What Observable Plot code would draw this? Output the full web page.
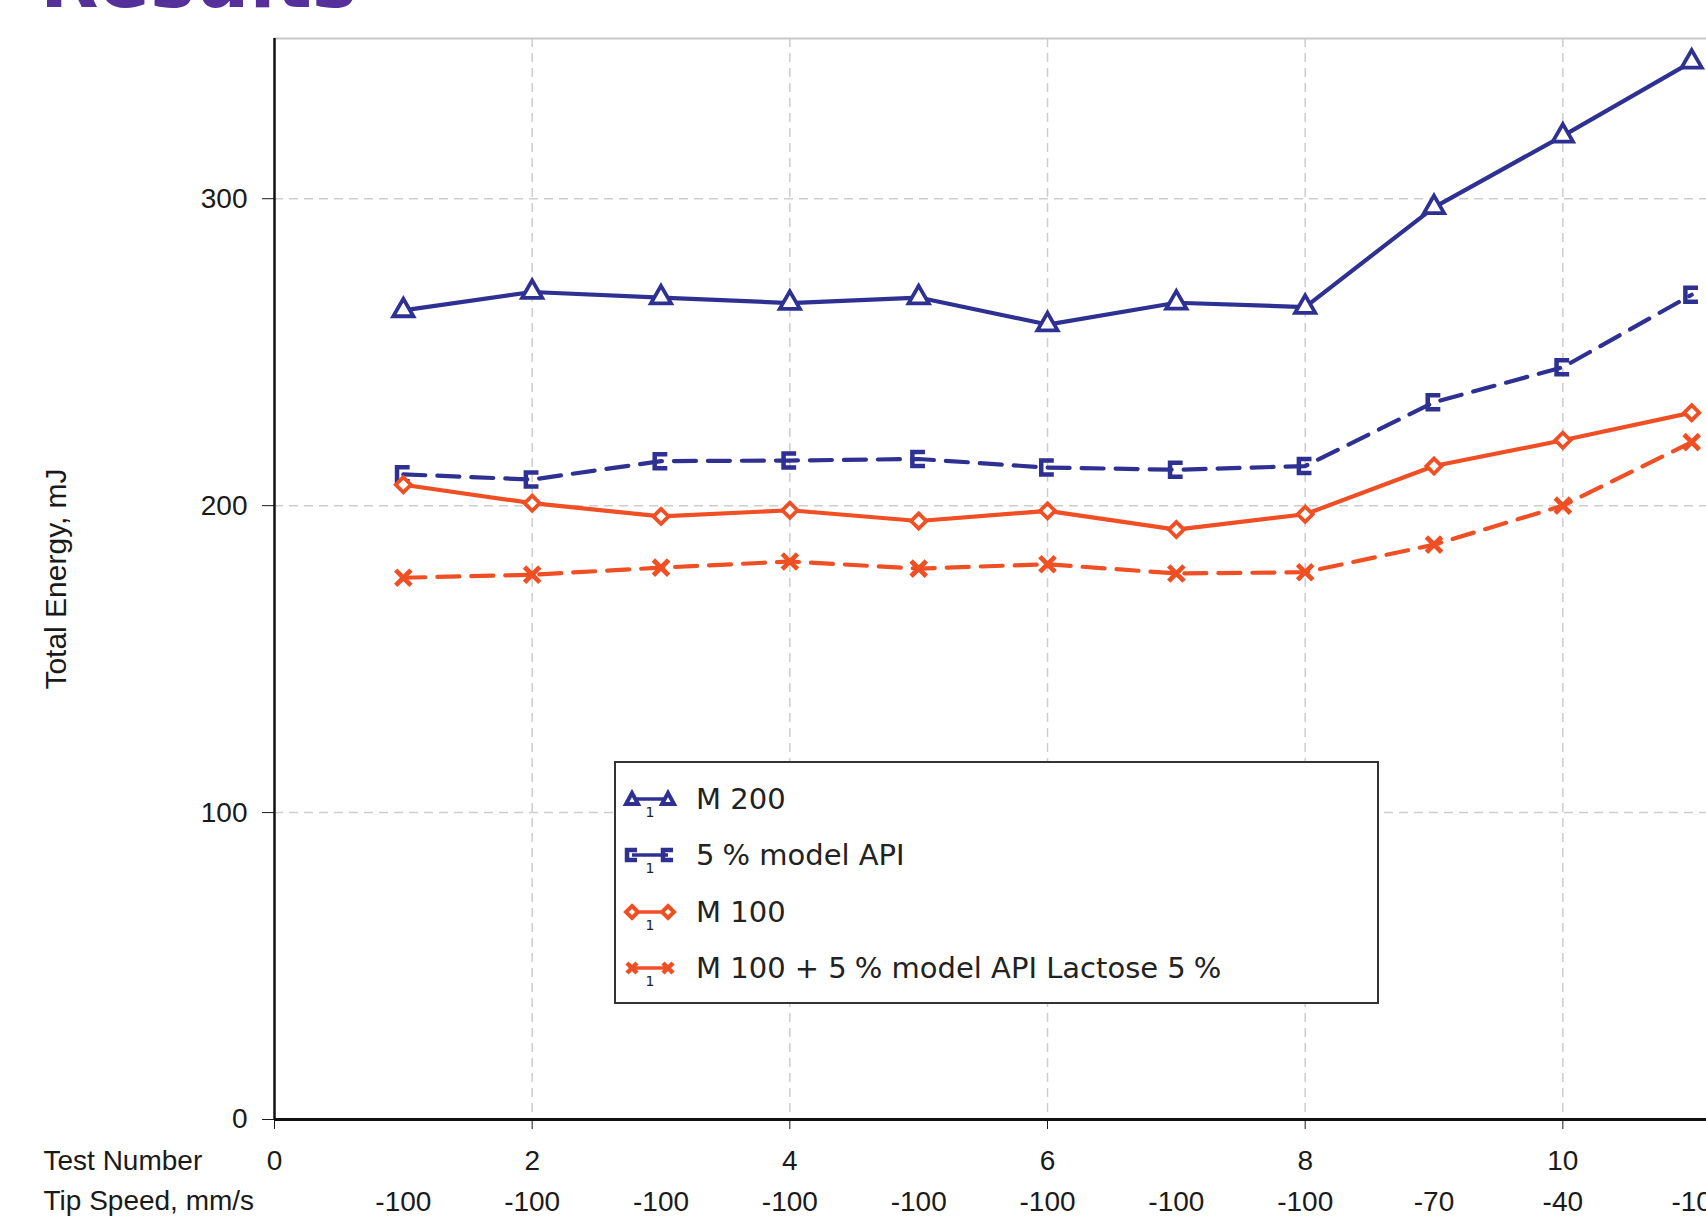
<!DOCTYPE html>
<html>
<head>
<meta charset="utf-8">
<script src="https://cdn.jsdelivr.net/npm/d3@7"></script>
<script src="https://cdn.jsdelivr.net/npm/@observablehq/plot@0.6"></script>
<style>
  html, body { margin: 0; padding: 0; background: #fff; }
  body { width: 1706px; height: 1225px; overflow: hidden; position: relative; }
  #chart { position: absolute; left: 0; top: 0; }
  #title { position: absolute; left: 40px; top: -57px; font: bold 76px "DejaVu Sans", Verdana, sans-serif; line-height: 76px; color: #56309a; white-space: nowrap; }
  #legend { position: absolute; left: 614px; top: 761px; width: 761px; height: 239px; border: 2px solid #333; background: #fff; font-family: "DejaVu Sans", Verdana, sans-serif; font-size: 29px; color: #222; }
  .row { position: absolute; left: 0; height: 40px; width: 100%; }
  .row svg { position: absolute; left: 6px; top: 0; }
  .row span.t { position: absolute; left: 80px; top: 0; line-height: 40px; white-space: nowrap; }
  .pc { margin-left: 8px; }
</style>
</head>
<body>
<div id="chart"></div>
<div id="title">Results</div>
<div id="legend"></div>
<script>
// ---- data ----
const testNumbers = [1, 2, 3, 4, 5, 6, 7, 8, 9, 10, 11];
const tipSpeed = [-100, -100, -100, -100, -100, -100, -100, -100, -70, -40, -10];
const seriesNames = ["M 200", "5% model API", "M 100", "M 100 + 5% model API Lactose 5%"];
const m200 = [263.6, 269.6, 267.8, 266.0, 267.8, 259.0, 266.1, 264.7, 297.2, 320.5, 344.6];
const api5 = [210.2, 208.5, 214.5, 214.7, 215.2, 212.4, 211.7, 212.9, 233.7, 245.1, 268.7];
const m100 = [206.8, 200.8, 196.5, 198.5, 195.0, 198.3, 192.2, 197.2, 212.9, 221.3, 230.3];
const lactose = [176.5, 177.5, 179.8, 181.8, 179.5, 180.9, 177.9, 178.3, 187.3, 200.0, 220.7];
const xTicks = [0, 2, 4, 6, 8, 10];
const yTicks = [0, 100, 200, 300];
const xDomain = [0, 11.115];
const yDomain = [0, 352.2];

const navy = "#2e3192";
const orange = "#f04f24";

// open-right square ("⊏") marker
const bracket = {
  draw(ctx, size) {
    const r = Math.sqrt(size / Math.PI);
    ctx.moveTo(r * 0.9, -r);
    ctx.lineTo(-r * 0.9, -r);
    ctx.lineTo(-r * 0.9, r);
    ctx.lineTo(r * 0.9, r);
  }
};

const series = [
  {name: seriesNames[0], values: m200, color: navy, dash: null, symbol: "triangle", r: 7.5, fill: "white", sw: 3.8},
  {name: seriesNames[1], values: api5, color: navy, dash: "22,12", symbol: bracket, r: 7, fill: "none", sw: 4.5},
  {name: seriesNames[2], values: m100, color: orange, dash: null, symbol: "diamond2", r: 6.8, fill: "white", sw: 3.8},
  {name: seriesNames[3], values: lactose, color: orange, dash: "22,12", symbol: "times", r: 7, fill: "none", sw: 4.8}
];

const seriesMarks = series.flatMap(s => {
  const data = testNumbers.map((t, i) => ({x: t, y: s.values[i]}));
  return [
    Plot.line(data, {x: "x", y: "y", stroke: s.color, strokeWidth: 4.2, strokeDasharray: s.dash ?? undefined, strokeLinejoin: "round"}),
    Plot.dot(data, {x: "x", y: "y", symbol: s.symbol, r: s.r, stroke: s.color, strokeWidth: s.sw, fill: s.fill})
  ];
});

const gridStyle = {stroke: "#cdcdcd", strokeOpacity: 1, strokeWidth: 1.5, strokeDasharray: "9,6"};

const chart = Plot.plot({
  width: 1706,
  height: 1225,
  marginLeft: 274,
  marginRight: 0,
  marginTop: 38,
  marginBottom: 106,
  x: {domain: xDomain},
  y: {domain: yDomain},
  style: {fontFamily: "'Liberation Sans', Arial, sans-serif", fontSize: "28px", color: "#1a1a1a", background: "transparent", overflow: "visible"},
  marks: [
    Plot.gridX(xTicks.slice(1), gridStyle),
    Plot.gridY(yTicks.slice(1), gridStyle),
    Plot.frame({anchor: "top", stroke: "#c8c8c8", strokeWidth: 2}),
    Plot.axisY(yTicks, {tickSize: 12, tickPadding: 15, fontSize: 28, tickFormat: d => String(d), label: null}),
    Plot.axisY(yTicks, {tickSize: 0, ticks: [], fontSize: 30, tickFormat: () => "",
      label: "Total Energy, mJ", labelAnchor: "center", labelArrow: "none", labelOffset: 230}),
    Plot.axisX(xTicks, {tickSize: 10, tickPadding: 21, fontSize: 28, tickFormat: d => String(d), label: null}),
    Plot.axisX(testNumbers, {tickSize: 0, tickPadding: 72, fontSize: 28, tickFormat: d => String(tipSpeed[d - 1]), label: null}),
    Plot.ruleX([0], {stroke: "#111", strokeWidth: 2.5}),
    Plot.ruleY([0], {stroke: "#111", strokeWidth: 3}),
    Plot.text(["Test Number"], {text: d => d, frameAnchor: "bottom-left", dx: -231, dy: 50, textAnchor: "start", fontSize: 28}),
    Plot.text(["Tip Speed, mm/s"], {text: d => d, frameAnchor: "bottom-left", dx: -231, dy: 90, textAnchor: "start", fontSize: 28}),
    ...seriesMarks
  ]
});
document.getElementById("chart").appendChild(chart);

// ---- legend (inside the plot area, as in the reference) ----
const legend = document.getElementById("legend");
const symbolPaths = {
  triangle: (cx, cy) => `<path d="M${cx},${cy - 6}L${cx + 6},${cy + 5}L${cx - 6},${cy + 5}Z" fill="white" stroke-width="4"/>`,
  bracket: (cx, cy) => `<path d="M${cx + 5},${cy - 5}H${cx - 5}V${cy + 5}H${cx + 5}" fill="none" stroke-width="4.5"/>`,
  diamond2: (cx, cy) => `<path d="M${cx},${cy - 6}L${cx + 6},${cy}L${cx},${cy + 6}L${cx - 6},${cy}Z" fill="white" stroke-width="4"/>`,
  times: (cx, cy) => `<path d="M${cx - 5},${cy - 5}L${cx + 5},${cy + 5}M${cx + 5},${cy - 5}L${cx - 5},${cy + 5}" fill="none" stroke-width="4.5"/>`
};
const keys = ["triangle", "bracket", "diamond2", "times"];
const fmtName = name => name.replace(/5%/g, '5<span class="pc">%</span>');
series.forEach((s, i) => {
  const row = document.createElement("div");
  row.className = "row";
  row.style.top = (16 + 56.3 * i) + "px";
  const k = keys[i];
  row.innerHTML = `<svg width="60" height="42" viewBox="0 0 60 42">
      <g stroke="${s.color}" stroke-linejoin="miter">
        <line x1="10" y1="20" x2="46" y2="20" stroke-width="3.5"/>
        ${symbolPaths[k](10, 20)}
        ${symbolPaths[k](46, 20)}
      </g>
      <text x="28" y="38" font-size="14" text-anchor="middle" fill="#222" font-family="DejaVu Sans">1</text>
    </svg><span class="t">${fmtName(s.name)}</span>`;
  legend.appendChild(row);
});
</script>
</body>
</html>
